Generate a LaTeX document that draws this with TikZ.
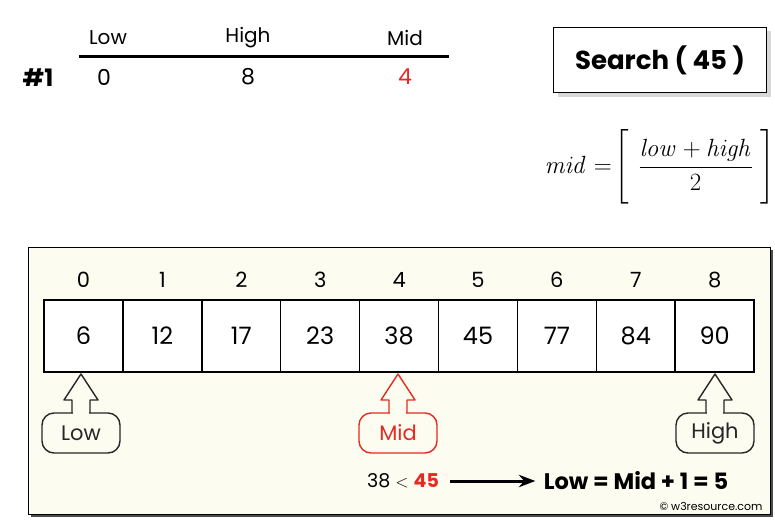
\documentclass[tikz,border=0pt]{standalone}
\usepackage{amsmath}
\usepackage[no-math]{fontspec}
\setmainfont{Poppins}
\usetikzlibrary{arrows.meta,positioning,shadows}

\definecolor{panelbg}{HTML}{FCFCF0}
\definecolor{midred}{HTML}{E52A22}

% pointer under a cell: tip x, colour, label, name
\newcommand{\pointer}[4]{%
  \node[ptrbox, draw=#2, text=#2] (#4) at (#1,433) {#3};
  \fill[panelbg] (#1-8.3,411.5) rectangle (#1+8.3,414.5);
  \draw[#2, line width=1.4pt, line join=round]
    (#1-9,413) -- (#1-9,400) -- (#1-17,400) -- (#1,374)
    -- (#1+17,400) -- (#1+9,400) -- (#1+9,413);
}

\begin{document}
\begin{tikzpicture}[x=1pt, y=-1pt,
  head/.style={font=\fontsize{20}{24}\selectfont},
  val/.style={font=\fontsize{22}{26}\selectfont},
  cell/.style={draw, line width=1.5pt, fill=white, minimum width=79pt,
    minimum height=72pt, inner sep=0pt, font=\fontsize{24}{28}\selectfont},
  idx/.style={font=\fontsize{21}{25}\selectfont},
  ptrbox/.style={rounded corners=12pt, line width=1.4pt, fill=panelbg,
    minimum width=78pt, minimum height=40pt, inner sep=0pt,
    font=\fontsize{21}{25}\selectfont},
  >=Stealth
]
\useasboundingbox (0,0) rectangle (775,519);

% header table
\node[head] (hlow) at (108,38) {Low};
\node[head] (hhigh) at (248,38) {High};
\node[head] (hmid) at (405,38) {Mid};
\draw[line width=3pt] (79,56) -- (449,56);
\node[font=\fontsize{24}{28}\selectfont\bfseries] (step1) at (38,78) {\#1};
\node[val] (vlow) at (104,77) {0};
\node[val] (vhigh) at (248,77) {8};
\node[val, text=midred] (vmid) at (405,77) {4};

% search box
\node[draw, line width=1.5pt, fill=white, minimum width=213pt, minimum height=65pt,
  drop shadow={shadow xshift=4pt, shadow yshift=-4pt, fill=gray!60},
  font=\fontsize{26}{30}\selectfont\bfseries] (search) at (660,60) {Search ( 45 )};

% formula
\node[font=\fontsize{27}{32}\selectfont, inner sep=0pt] (formula) at (660,167)
  {$\mathit{mid}=\!\left[\rule[-29pt]{0pt}{72pt}\hspace{0.35em}
   \dfrac{\mathit{low}+\mathit{high}}{2}\hspace{0.3em}\right]$};

% array panel
\fill[black!70] (31,250) rectangle (773,517);
\draw[line width=0.8pt, fill=panelbg] (28,247) rectangle (770,514);

\foreach \v [count=\i from 0] in {6,12,17,23,38,45,77,84,90} {
  \node[cell] (c\i) at ({83.5+78.9*\i},336) {\v};
  \node[idx, above=8pt of c\i] (i\i) {\i};
}

% pointers
\pointer{81}{black!85}{Low}{plow}
\pointer{398}{midred}{Mid}{pmid}
\pointer{715}{black!85}{High}{phigh}

% comparison
\node[font=\fontsize{19}{23}\selectfont] (cmp) at (403,481)
  {38 $<$ \textcolor{midred}{\bfseries 45}};
\node[font=\fontsize{22.5}{26}\selectfont\bfseries] (res) at (636,481)
  {Low = Mid + 1 = 5};
\draw[->, line width=3pt, shorten <=8pt, shorten >=5pt] (cmp) -- (res);

\node[font=\fontsize{11}{13}\selectfont] (credit) at (711,506) {© w3resource.com};
\end{tikzpicture}
\end{document}
